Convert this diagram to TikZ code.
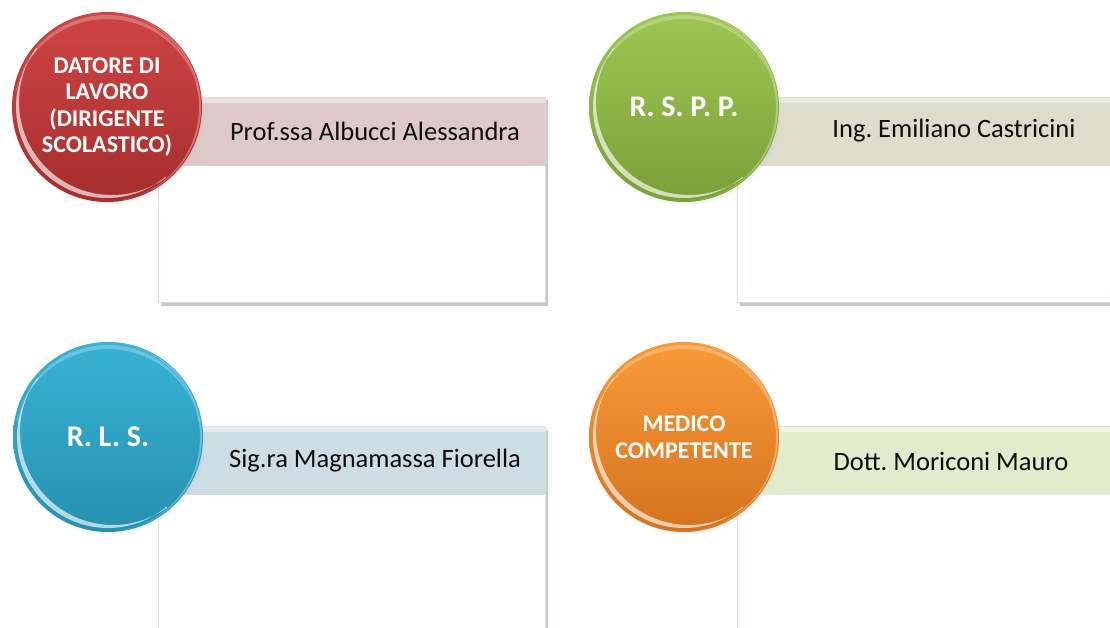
\documentclass[tikz,border=0pt]{standalone}
\usepackage{fontspec}
\setmainfont{Carlito}
\frenchspacing
\usetikzlibrary{shadows}
\definecolor{redtop}{HTML}{CF4444}
\definecolor{redbot}{HTML}{A62E2E}
\definecolor{greentop}{HTML}{9EC653}
\definecolor{greenbot}{HTML}{7AA038}
\definecolor{bluetop}{HTML}{38B3D5}
\definecolor{bluebot}{HTML}{2690B0}
\definecolor{orangetop}{HTML}{F99A38}
\definecolor{orangebot}{HTML}{D5731E}
\definecolor{bandred}{HTML}{DDC9C9}
\definecolor{bandgrey}{HTML}{DEDCCB}
\definecolor{bandblue}{HTML}{CDDDE4}
\definecolor{bandgreen}{HTML}{E2EBCC}
\definecolor{edgered}{HTML}{E8D6D6}
\definecolor{edgegrey}{HTML}{DCDCCB}
\definecolor{edgeblue}{HTML}{D6EAD8}
\definecolor{edgeorange}{HTML}{F2D8CE}
\tikzset{
  panelbox/.style={draw=#1, fill=white, line width=1pt, anchor=north west,
    minimum width=387pt, minimum height=205pt, inner sep=0pt,
    drop shadow={shadow xshift=2.5pt, shadow yshift=-3pt, opacity=0.35, fill=black!60}},
  bandbox/.style={fill=#1, anchor=north west, minimum width=386pt,
    minimum height=68pt, inner sep=0pt},
  bandstrip/.style={fill=white, fill opacity=0.45, anchor=north west,
    minimum width=386pt, minimum height=5pt, inner sep=0pt},
  nametext/.style={font=\fontsize{26.5}{30}\selectfont, text=black!95, inner sep=0pt},
  ball/.style={circle, minimum size=190pt, inner sep=0pt, text=white, align=center,
    circular drop shadow={shadow xshift=2pt, shadow yshift=-4pt, opacity=0.3, shadow scale=1.0}},
  ballsmall/.style={font=\fontsize{24}{26.5}\selectfont\bfseries},
  ballbig/.style={font=\fontsize{30}{34}\selectfont\bfseries},
}
\begin{document}
\begin{tikzpicture}[x=1pt,y=1pt]
\useasboundingbox[fill=white] (0,0) rectangle (1110,-628);
% panels
\node[panelbox=edgered] (p1) at (158,-97) {};
\node[panelbox=edgegrey] (p2) at (737,-97) {};
\node[panelbox=edgeblue] (p3) at (158,-426) {};
\node[panelbox=edgeorange] (p4) at (737,-426) {};
% bands
\node[bandbox=bandred] (b1) at (158.5,-97.5) {};
\node[bandbox=bandgrey] (b2) at (737.5,-97.5) {};
\node[bandbox=bandblue] (b3) at (158.5,-426.5) {};
\node[bandbox=bandgreen] (b4) at (737.5,-426.5) {};
\node[bandstrip] (s1) at (158.5,-97.5) {};
\node[bandstrip] (s2) at (737.5,-97.5) {};
\node[bandstrip] (s3) at (158.5,-426.5) {};
\node[bandstrip] (s4) at (737.5,-426.5) {};
% names
\node[nametext] (n1) at (375,-131) {Prof.ssa Albucci Alessandra};
\node[nametext] (n2) at (954,-131) {Ing. Emiliano Castricini};
\node[nametext] (n3) at (375,-461) {Sig.ra Magnamassa Fiorella};
\node[nametext] (n4) at (951,-461) {Dott. Moriconi Mauro};
% balls
\node[ball, ballsmall, top color=redtop, bottom color=redbot] (c1) at (107,-107)
  {DATORE DI\\LAVORO\\(DIRIGENTE\\SCOLASTICO)};
\node[ball, ballbig, top color=greentop, bottom color=greenbot] (c2) at (684,-107)
  {R. S. P. P.};
\node[ball, ballbig, top color=bluetop, bottom color=bluebot] (c3) at (108,-437)
  {R. L. S.};
\node[ball, ballsmall, top color=orangetop, bottom color=orangebot] (c4) at (684,-437)
  {MEDICO\\COMPETENTE};
% gloss
\foreach \c in {c1,c2,c3,c4}{
  \begin{scope}
    \clip (\c.center) -- ++(140:110) arc[start angle=140, end angle=310, radius=110] -- cycle;
    \fill[white, opacity=0.65, even odd rule] (\c.center) circle (91)
      ([shift={(5,5)}]\c.center) circle (93);
  \end{scope}
  \begin{scope}
    \clip (\c.center) -- ++(10:110) arc[start angle=10, end angle=170, radius=110] -- cycle;
    \fill[white, opacity=0.25, even odd rule] (\c.center) circle (92)
      ([shift={(0,-6)}]\c.center) circle (94);
  \end{scope}
  \begin{scope}
    \clip (\c.center) -- ++(-80:110) arc[start angle=-80, end angle=80, radius=110] -- cycle;
    \fill[white, opacity=0.3, even odd rule] (\c.center) circle (94)
      ([shift={(-3,0)}]\c.center) circle (95);
  \end{scope}
}
\end{tikzpicture}
\end{document}
